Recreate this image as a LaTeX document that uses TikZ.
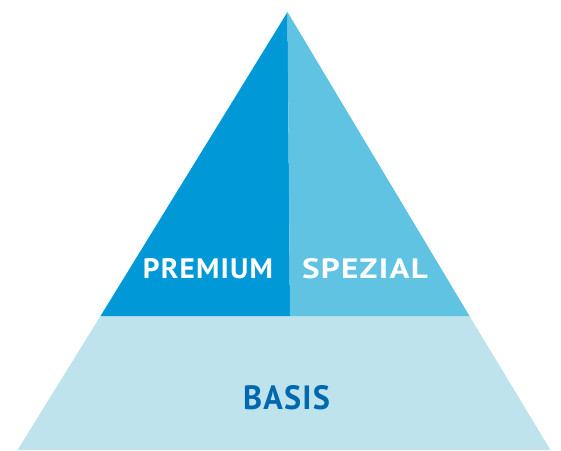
\documentclass[tikz,border=0pt]{standalone}
\usepackage{fontspec}
\usepackage{graphicx}
\setmainfont{PT Sans}
\newfontfamily\labfont[LetterSpace=4]{PT Sans Bold}
\definecolor{darkblue}{HTML}{0098D6}
\definecolor{midblue}{HTML}{5FC3E1}
\definecolor{paleblue}{HTML}{BEE3EC}
\definecolor{basistext}{HTML}{0068AE}
\begin{document}
\begin{tikzpicture}[x=1pt,y=-1pt,
  lab/.style={inner sep=0pt, text depth=0pt, font=\labfont\fontsize{28}{30}\selectfont}]
\useasboundingbox (0,0) rectangle (561,450);
\coordinate (apex) at (287.5,12);
\coordinate (ml) at (100.5,316);
\coordinate (mr) at (469.5,316);
\coordinate (mc) at (290,316);
\coordinate (bl) at (17.5,450);
\coordinate (br) at (550.5,450);
\fill[paleblue] (ml) -- (mr) -- (br) -- (bl) -- cycle;
\fill[darkblue] (apex) -- (mc) -- (ml) -- cycle;
\fill[midblue] (apex) -- (mr) -- (mc) -- cycle;
\node[lab, text=white] (premium) at (208,268) {\resizebox{130pt}{20pt}{PREMIUM}};
\node[lab, text=white] (spezial) at (365,268) {\resizebox{126pt}{20pt}{SPEZIAL}};
\node[lab, text=basistext] (basis) at (286.5,397) {\resizebox{87pt}{24pt}{BASIS}};
\end{tikzpicture}
\end{document}
